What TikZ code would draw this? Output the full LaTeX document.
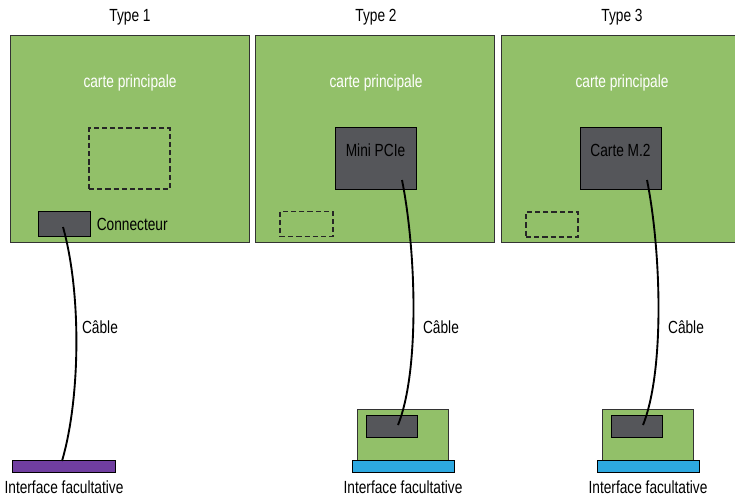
\documentclass[tikz,border=0pt]{standalone}
\usepackage{fontspec}
\setmainfont[FakeStretch=0.78]{Liberation Sans}
\usetikzlibrary{positioning}
\definecolor{boardgreen}{RGB}{146,192,105}
\definecolor{chipgray}{RGB}{85,86,90}
\definecolor{ifpurple}{RGB}{112,62,160}
\definecolor{ifblue}{RGB}{45,168,224}
\newcommand{\px}{0.03cm}
\begin{document}
\begin{tikzpicture}[x=0.03cm, y=-0.03cm, line width=0.7pt,
  txt/.style={font=\fontsize{15}{17}\selectfont, inner sep=0pt},
  board/.style={draw=black!80, fill=boardgreen, inner sep=0pt, minimum width={239*\px}, minimum height={207*\px}},
  chip/.style={draw=black, fill=chipgray, inner sep=0pt},
  slot/.style={draw=black!85, dash pattern=on 4.5pt off 2.5pt, line width=0.9pt, inner sep=0pt},
  cable/.style={line width=1.6pt}]
  \useasboundingbox (0,0) rectangle (735,500);
  % three main boards
  \node[board] (b1) at (129.5,138.5) {};
  \node[board] (b2) at (375,138.5) {};
  \node[board] (b3) at (620.5,138.5) {};
  \node[txt] (t1) at (130,17) {Type 1};
  \node[txt] (t2) at (376,17) {Type 2};
  \node[txt] (t3) at (622,17) {Type 3};
  \node[txt, white] (cp1) at (130,83) {carte principale};
  \node[txt, white] (cp2) at (376,83) {carte principale};
  \node[txt, white] (cp3) at (622,83) {carte principale};
  % type 1
  \node[slot, minimum width={81*\px}, minimum height={61*\px}] (s1) at (129.5,158.5) {};
  \node[chip, minimum width={52*\px}, minimum height={25*\px}] (cn1) at (64,224) {};
  \node[txt, right=0.18cm of cn1] (cnl) {Connecteur};
  \node[draw=black, fill=ifpurple, inner sep=0pt, minimum width={103*\px}, minimum height={12*\px}] (if1) at (63.5,466) {};
  % type 2
  \node[chip, minimum width={81*\px}, minimum height={62*\px}] (mp) at (375.5,158) {};
  \node[txt] (mpl) at (375.5,150) {Mini PCIe};
  \node[slot, minimum width={53*\px}, minimum height={25*\px}] (s2) at (306.5,224) {};
  \node[draw=black!80, fill=boardgreen, inner sep=0pt, minimum width={91*\px}, minimum height={51*\px}] (ib2) at (402.5,434.5) {};
  \node[chip, minimum width={51*\px}, minimum height={22*\px}] (ic2) at (391.5,426) {};
  \node[draw=black, fill=ifblue, inner sep=0pt, minimum width={102*\px}, minimum height={12*\px}] (if2) at (403,466) {};
  % type 3
  \node[chip, minimum width={81*\px}, minimum height={62*\px}] (m2) at (620.5,158) {};
  \node[txt] (m2l) at (620.5,150) {Carte M.2};
  \node[slot, minimum width={52*\px}, minimum height={25*\px}] (s3) at (552,224.5) {};
  \node[draw=black!80, fill=boardgreen, inner sep=0pt, minimum width={91*\px}, minimum height={51*\px}] (ib3) at (647.5,434.5) {};
  \node[chip, minimum width={51*\px}, minimum height={22*\px}] (ic3) at (636.5,426) {};
  \node[draw=black, fill=ifblue, inner sep=0pt, minimum width={102*\px}, minimum height={12*\px}] (if3) at (648,466) {};
  % cable ends
  \coordinate (c1a) at (63,227); \coordinate (c1b) at (62,461);
  \coordinate (c2a) at (402,180); \coordinate (c2b) at (398,425);
  \coordinate (c3a) at (647,180); \coordinate (c3b) at (643,425);
  \draw[cable] (c1a) .. controls (82,295) and (80,400) .. (c1b);
  \draw[cable] (c2a) .. controls (416,250) and (420,370) .. (c2b);
  \draw[cable] (c3a) .. controls (661,250) and (665,370) .. (c3b);
  \node[txt] (cb1) at (100,327) {Câble};
  \node[txt] (cb2) at (441,327) {Câble};
  \node[txt] (cb3) at (686,327) {Câble};
  \node[txt] (l1) at (64,487) {Interface facultative};
  \node[txt] (l2) at (403,487) {Interface facultative};
  \node[txt] (l3) at (648,487) {Interface facultative};
\end{tikzpicture}
\end{document}
